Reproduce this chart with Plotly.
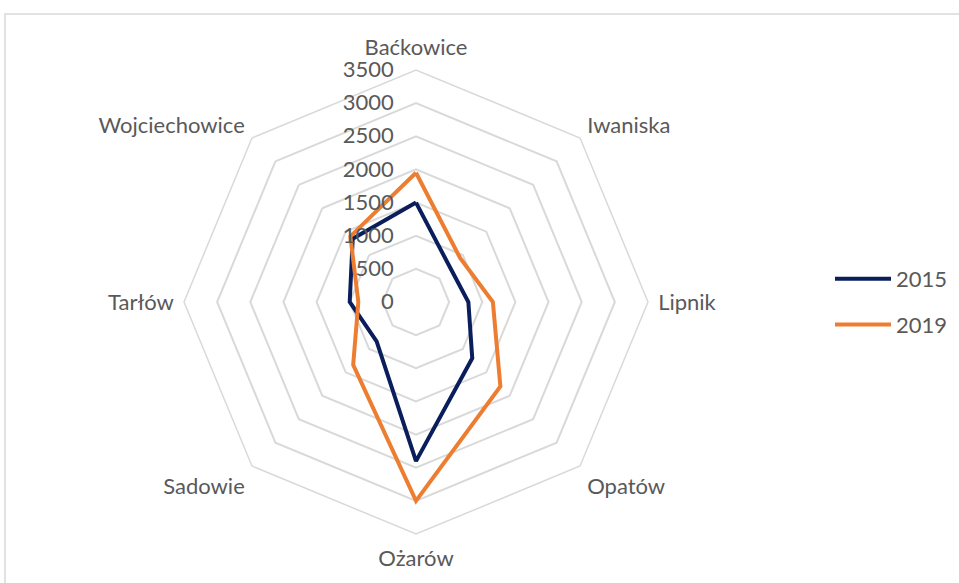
import plotly.graph_objects as go

categories = ["Baćkowice", "Iwaniska", "Lipnik", "Opatów", "Ożarów", "Sadowie", "Tarłów", "Wojciechowice"]
values_2015 = [1500, 730, 790, 1200, 2400, 840, 1000, 1350]
values_2019 = [1950, 940, 1160, 1800, 3000, 1340, 870, 1400]
tick_vals = [0, 500, 1000, 1500, 2000, 2500, 3000, 3500]

W, H = 959, 583
cx, cy, R = 416, 302, 232
FONT = "Lato, Open Sans, sans-serif"
TXT = "#595959"

fig = go.Figure()
for name, vals, col in [("2015", values_2015, "#0A1E5C"), ("2019", values_2019, "#ED7D31")]:
    fig.add_trace(go.Scatterpolar(
        r=vals + vals[:1], theta=categories + categories[:1], mode="lines",
        name=name, line=dict(color=col, width=4), legendgroup=name))

fig.update_layout(
    width=W, height=H, margin=dict(l=0, r=0, t=0, b=0),
    paper_bgcolor="white", plot_bgcolor="white",
    font=dict(family=FONT, size=22, color=TXT),
    polar=dict(
        domain=dict(x=[(cx - R) / W, (cx + R) / W], y=[(H - cy - R) / H, (H - cy + R) / H]),
        gridshape="linear", bgcolor="white",
        radialaxis=dict(range=[0, 3500], tickvals=tick_vals, showline=False, showgrid=True,
                        gridcolor="#d9d9d9", gridwidth=1.5, angle=90, tickangle=90,
                        side="counterclockwise", ticks="outside", ticklen=14,
                        tickcolor="rgba(0,0,0,0)",
                        tickfont=dict(family=FONT, size=22, color=TXT)),
        angularaxis=dict(direction="clockwise", rotation=90, showgrid=False, showline=True,
                         linecolor="#d9d9d9", linewidth=1.5, ticks="outside", ticklen=5,
                         tickcolor="rgba(0,0,0,0)",
                         tickfont=dict(family=FONT, size=22, color=TXT)),
    ),
    legend=dict(x=830 / W, y=1 - 302 / H, yanchor="middle", xanchor="left",
                font=dict(family=FONT, size=22, color=TXT), tracegroupgap=14,
                itemwidth=56, bgcolor="rgba(0,0,0,0)"),
    shapes=[dict(type="rect", xref="paper", yref="paper", x0=5 / W, x1=1.02,
                 y0=-0.02, y1=1 - 14 / H, line=dict(color="#d9d9d9", width=1.5))],
)

fig.write_html("out.html", config={"displayModeBar": False},
               post_script="document.body.style.margin='0';")
